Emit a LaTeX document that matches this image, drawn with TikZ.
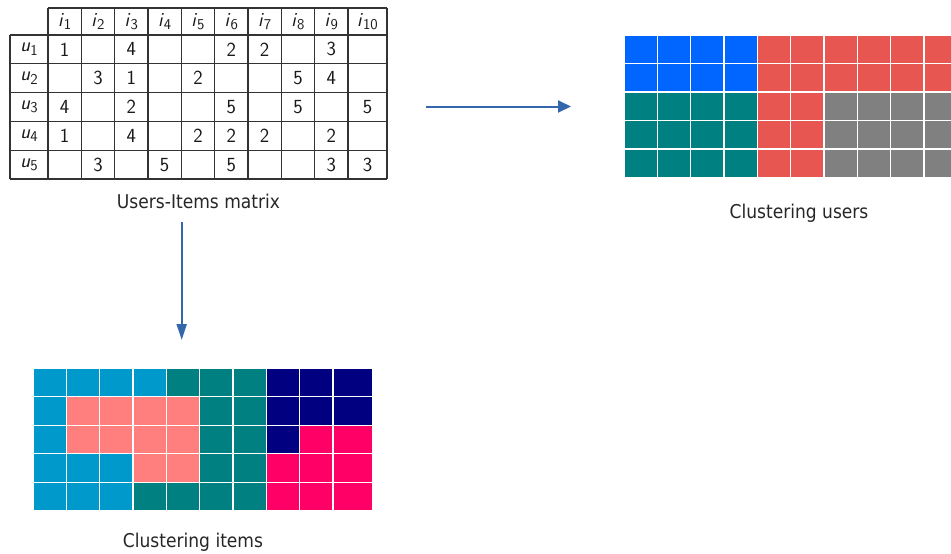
\documentclass[tikz,border=0pt]{standalone}
\usepackage{fontspec}
\newfontfamily\labfont{DejaVu Sans}[FakeStretch=0.9]
\usetikzlibrary{arrows.meta}
\definecolor{arrowblue}{HTML}{3366AA}
\definecolor{cblue}{HTML}{0066FF}
\definecolor{cred}{HTML}{E85651}
\definecolor{cteal}{HTML}{008080}
\definecolor{cgray}{HTML}{808080}
\definecolor{clblue}{HTML}{0099CC}
\definecolor{csalmon}{HTML}{FF7F7F}
\definecolor{cnavy}{HTML}{000080}
\definecolor{cpink}{HTML}{FF0066}
\definecolor{tabline}{HTML}{333333}
\newcommand\sublbl[2]{\textit{#1}\raisebox{-0.4ex}{\fontsize{15}{15}\selectfont #2}}
\begin{document}
\begin{tikzpicture}[x=1pt,y=-1pt,
  tabrule/.style={draw=tabline,line width=1.1pt},
  celltext/.style={inner sep=0pt,font=\sffamily\fontsize{20}{24}\selectfont,text=black!90},
  caption/.style={inner sep=0pt,anchor=base,font=\labfont\fontsize{19}{22}\selectfont,text=black!85},
  gridcell/.style={draw=white,line width=1.2pt},
  flow/.style={draw=arrowblue,line width=2pt}]
\useasboundingbox (0,0) rectangle (951,554);
\clip (0,0) rectangle (951,554);
% ---------- table ----------
\draw[tabrule] (48,8) -- (387,8);
\foreach \k in {0,...,5}{
  \draw[tabrule] (10,{35+28.8*\k}) -- (387,{35+28.8*\k});
}
\draw[tabrule] (10,35) -- (10,179);
\foreach \k in {0,...,9}{
  \draw[tabrule] ({48+33.333*\k},8) -- ({48+33.333*\k},179);
}
\draw[tabrule] (387,8) -- (387,179);
% header
\foreach \k in {1,...,10}{
  \pgfmathsetmacro\cx{\k<10 ? 48+33.333*(\k-0.5) : 367.5}
  \node[celltext] (h\k) at (\cx,21.5) {\sublbl{i}{\k}};
}
% row labels
\foreach \r in {1,...,5}{
  \node[celltext] (u\r) at (29,{35+28.8*(\r-0.5)}) {\sublbl{u}{\r}};
}
% values
\foreach \r/\k/\v in {1/1/1,1/3/4,1/6/2,1/7/2,1/9/3,
  2/2/3,2/3/1,2/5/2,2/8/5,2/9/4,
  3/1/4,3/3/2,3/6/5,3/8/5,3/10/5,
  4/1/1,4/3/4,4/5/2,4/6/2,4/7/2,4/9/2,
  5/2/3,5/4/5,5/6/5,5/9/3,5/10/3}{
  \pgfmathsetmacro\cx{\k<10 ? 48+33.333*(\k-0.5) : 367.5}
  \node[celltext] (v\r-\k) at (\cx,{35+28.8*(\r-0.5)}) {\v};
}
\node[caption] (matlab) at (198.5,208) {Users-Items matrix};
% ---------- clustering users grid ----------
\foreach \row [count=\j] in {
  {cblue,cblue,cblue,cblue,cred,cred,cred,cred,cred,cred},
  {cblue,cblue,cblue,cblue,cred,cred,cred,cred,cred,cred},
  {cteal,cteal,cteal,cteal,cred,cred,cgray,cgray,cgray,cgray},
  {cteal,cteal,cteal,cteal,cred,cred,cgray,cgray,cgray,cgray},
  {cteal,cteal,cteal,cteal,cred,cred,cgray,cgray,cgray,cgray}}{
  \foreach \c [count=\i] in \row {
    \pgfmathsetmacro\wx{\i<10 ? 33.333 : 39.5}
    \filldraw[gridcell,fill=\c] ({624+33.333*(\i-1)},{35+28.5*(\j-1)}) rectangle +(\wx,28.5);
  }
}
\node[caption] (uslab) at (799,218) {Clustering users};
% ---------- clustering items grid ----------
\foreach \row [count=\j] in {
  {clblue,clblue,clblue,clblue,cteal,cteal,cteal,cnavy,cnavy,cnavy},
  {clblue,csalmon,csalmon,csalmon,csalmon,cteal,cteal,cnavy,cnavy,cnavy},
  {clblue,csalmon,csalmon,csalmon,csalmon,cteal,cteal,cnavy,cpink,cpink},
  {clblue,clblue,clblue,csalmon,csalmon,cteal,cteal,cpink,cpink,cpink},
  {clblue,clblue,clblue,cteal,cteal,cteal,cteal,cpink,cpink,cpink}}{
  \foreach \c [count=\i] in \row {
    \pgfmathsetmacro\wx{\i<10 ? 33.333 : 39.5}
    \filldraw[gridcell,fill=\c] ({33+33.333*(\i-1)},{368.3+28.5*(\j-1)}) rectangle +(\wx,28.5);
  }
}
\node[caption] (itlab) at (193,547) {Clustering items};
% ---------- connectors ----------
\coordinate (hs) at (426,106.5);
\coordinate (he) at (571,106.5);
\coordinate (vs) at (181.7,222);
\coordinate (ve) at (181.7,340);
\draw[flow,-{Triangle[length=13pt,width=12pt]}] (hs) -- (he);
\draw[flow,-{Triangle[length=16pt,width=10pt]}] (vs) -- (ve);
\end{tikzpicture}
\end{document}
